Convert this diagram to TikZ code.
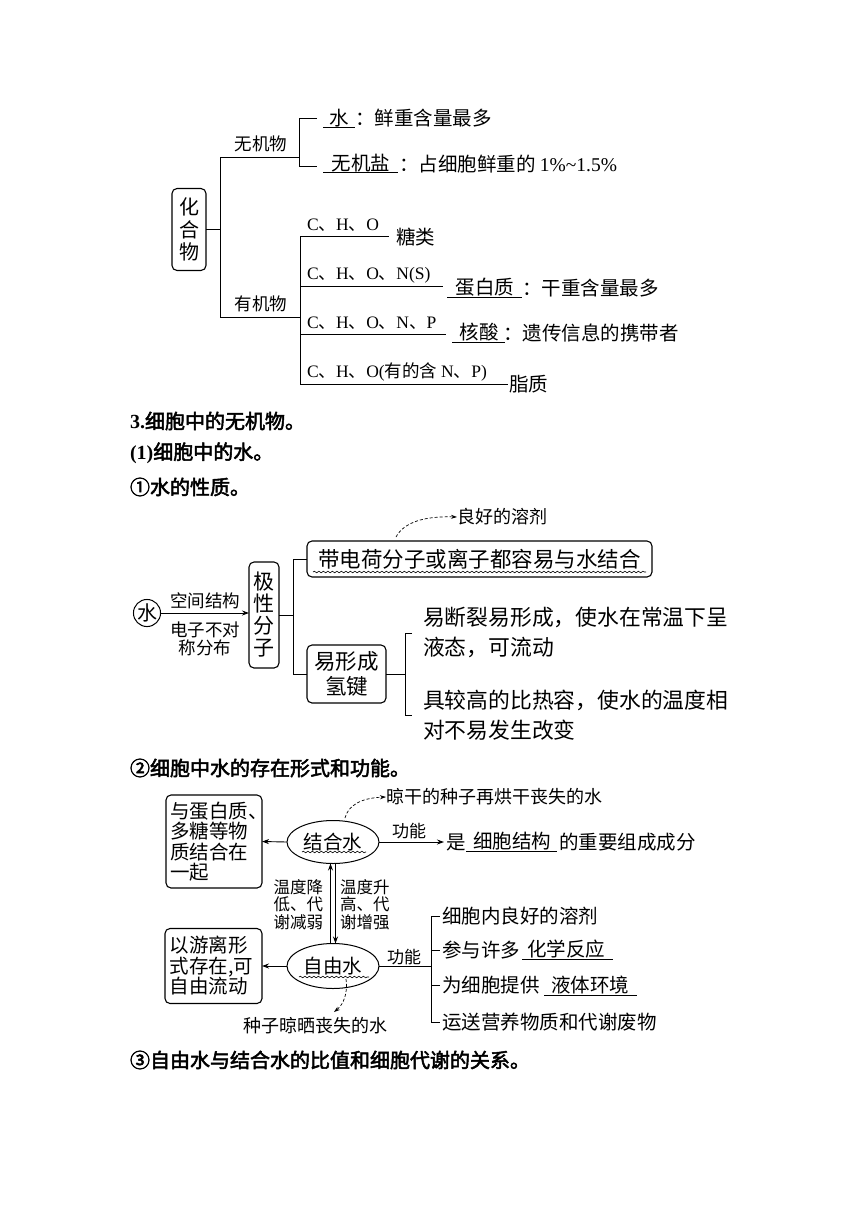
\documentclass[tikz,border=0pt]{standalone}
\usepackage{fontspec}
\setmainfont{Noto Sans CJK SC}[AutoFakeBold=2.5]
\newfontfamily\tnr{Liberation Serif}
\usetikzlibrary{arrows.meta,decorations.pathmorphing,shapes.geometric}
\newcommand\tnx[1]{{\tnr #1}}
\begin{document}
\begin{tikzpicture}[x=1pt,y=-1pt,
  every node/.style={inner sep=0pt, outer sep=0pt},
  ln/.style={line width=1pt},
  rbox/.style={draw, line width=1.1pt, rounded corners=5pt},
  wav/.style={decorate, decoration={snake, amplitude=0.8pt, segment length=4.5pt}, line width=0.6pt},
  arr/.style={line width=0.9pt, -{Stealth[length=7pt,width=5pt]}},
  dsh/.style={line width=0.7pt, dash pattern=on 3pt off 2pt, -{Stealth[length=6pt,width=4pt]}},
  fA/.style={font=\fontsize{19.5}{21}\selectfont},
  fB/.style={font=\fontsize{17.5}{19}\selectfont},
  fC/.style={font=\fontsize{21.5}{25}\selectfont},
  fD/.style={font=\fontsize{16.5}{17.5}\selectfont},
  fE/.style={font=\fontsize{21.8}{24}\selectfont},
  fH/.style={font=\fontsize{18}{20}\selectfont},
  fT/.style={font=\fontsize{20}{22}\selectfont\bfseries},
]
\fill[white] (0,0) rectangle (860,1216);
\useasboundingbox (0,0) rectangle (860,1216);

% ---------------- top: compounds ----------------
\node[rbox, minimum width=34, minimum height=82, align=center, font=\fontsize{20}{22.5}\selectfont] (hhw) at (189,229.5) {化\\合\\物};
\coordinate (m0) at (220,229.5);
\coordinate (m1) at (220,157);
\coordinate (m2) at (220,317);
\draw[ln] (hhw.east) -- (m0);
\draw[ln] (m1) -- (m2);
% inorganic
\coordinate (i0) at (299,157);
\coordinate (i1) at (299,118);
\coordinate (i2) at (299,166);
\coordinate (i1e) at (317,118);
\coordinate (i2e) at (317,166);
\draw[ln] (m1) -- (i0);
\draw[ln] (i1e) -- (i1) -- (i2) -- (i2e);
\node[fB] (wjw) at (261,144) {无机物};
\node[fA] (shui1) at (339,118) {水};
\draw[ln] (323,127) -- (355,127);
\node[fA, anchor=west] (t1) at (355,118) {：鲜重含量最多};
\node[fA] (wjy) at (361,163) {无机盐};
\draw[ln] (323,172) -- (398,172);
\node[fA, anchor=west] (t2) at (399,164) {：占细胞鲜重的 \tnx{1\%\textasciitilde1.5\%}};
% organic
\node[fB] (yjw) at (261,304) {有机物};
\coordinate (o0) at (300,317);
\draw[ln] (m2) -- (o0);
\coordinate (oa) at (300,236);
\coordinate (ob) at (300,286);
\coordinate (oc) at (300,334);
\coordinate (od) at (300,384);
\coordinate (oae) at (389,236);
\coordinate (obe) at (443,286);
\coordinate (oce) at (446,334);
\coordinate (ode) at (508,384);
\draw[ln] (oa) -- (od);
\draw[ln] (oa) -- (oae);
\draw[ln] (ob) -- (obe);
\draw[ln] (oc) -- (oce);
\draw[ln] (od) -- (ode);
\node[fB, anchor=west] (la) at (307,225) {\tnx{C}、\tnx{H}、\tnx{O}};
\node[fA, anchor=west] (tl) at (396,237) {糖类};
\node[fB, anchor=west] (lb) at (307,275) {\tnx{C}、\tnx{H}、\tnx{O}、\tnx{N(S)}};
\node[fA] (dbz) at (485,287) {蛋白质};
\draw[ln] (447,297) -- (522,297);
\node[fA, anchor=west] (t3) at (522,288) {：干重含量最多};
\node[fB, anchor=west] (lc) at (307,323) {\tnx{C}、\tnx{H}、\tnx{O}、\tnx{N}、\tnx{P}};
\node[fA] (hs) at (479,332) {核酸};
\draw[ln] (452,342) -- (505,342);
\node[fA, anchor=west] (t4) at (503,333) {：遗传信息的携带者};
\node[fB, anchor=west] (ld) at (307,372) {\tnx{C}、\tnx{H}、\tnx{O(}有的含 \tnx{N}、\tnx{P)}};
\node[fA, anchor=west] (zz) at (509,384) {脂质};

% ---------------- headings ----------------
\node[fT, anchor=west] (h1) at (130,421) {\tnx{3.}细胞中的无机物。};
\node[fT, anchor=west] (h2) at (130,453) {\tnx{(1)}细胞中的水。};
\node[fT, anchor=west] (h3) at (130,487) {①水的性质。};
\node[fT, anchor=west] (h4) at (130,768) {②细胞中水的存在形式和功能。};
\node[fT, anchor=west] (h5) at (130,1060) {③自由水与结合水的比值和细胞代谢的关系。};

% ---------------- middle: properties of water ----------------
\node[circle, draw, ln, minimum size=27, font=\fontsize{20}{22}\selectfont] (shui) at (147,613) {水};
\node[rbox, minimum width=30, minimum height=106, align=center, font=\fontsize{21}{22}\selectfont] (jx) at (264,615) {极\\性\\分\\子};
\draw[arr] (shui.east) -- (shui.east -| jx.west);
\node[fB] (kj) at (205,601) {空间结构};
\node[align=center, font=\fontsize{17.5}{18.5}\selectfont] (dz) at (205,639) {电子不对\\称分布};
\coordinate (b0) at (293,615);
\coordinate (b1) at (293,559);
\coordinate (b2) at (293,674);
\draw[ln] (jx.east) -- (b0);
\draw[ln] (b1) -- (b2);
\node[rbox, minimum width=345, minimum height=36, fC] (dd) at (479.5,559) {带电荷分子或离子都容易与水结合};
\draw[wav] (313,572) -- (646,572);
\draw[ln] (b1) -- (dd.west);
\node[rbox, minimum width=79, minimum height=58, align=center, fC] (qj) at (346.5,674) {易形成\\氢键};
\draw[ln] (b2) -- (qj.west);
\coordinate (c0) at (405,674);
\coordinate (c1) at (405,633);
\coordinate (c2) at (405,715);
\coordinate (c1e) at (412,633);
\coordinate (c2e) at (412,715);
\draw[ln] (qj.east) -- (c0);
\draw[ln] (c1e) -- (c1) -- (c2) -- (c2e);
\node[fE, anchor=west] (p1) at (423,617) {易断裂易形成，使水在常温下呈};
\node[fE, anchor=west] (p2) at (423,647) {液态，可流动};
\node[fE, anchor=west] (p3) at (423,700) {具较高的比热容，使水的温度相};
\node[fE, anchor=west] (p4) at (423,730) {对不易发生改变};
\coordinate (g0) at (396,537);
\node[fH, anchor=west] (lh) at (457,517) {良好的溶剂};
\draw[dsh] (g0) .. controls (404,522) and (425,516) .. (lh.west);

% ---------------- bottom: forms of water ----------------
\node[rbox, minimum width=96, minimum height=93, align=left, text width=88, font=\fontsize{19.5}{20.3}\selectfont] (bx1) at (214,841.5) {与蛋白质、\\多糖等物\\质结合在\\一起};
\node[ellipse, draw, ln, minimum width=92, minimum height=43, fA] (jh) at (333,842) {结合水};
\draw[wav] (302,852) -- (366,852);
\draw[arr] (jh.west) -- (bx1.east);
\coordinate (s0) at (444,842);
\draw[arr] (jh.east) -- (s0);
\node[font=\fontsize{17}{18}\selectfont] (gn1) at (409,831) {功能};
\node[fA, anchor=west] (shi) at (446,842) {是};
\node[fA] (xbjg) at (512,841) {细胞结构};
\draw[ln] (466,851) -- (557,851);
\node[fA, anchor=west] (t5) at (559,842) {的重要组成成分};
\coordinate (g1) at (345,818);
\node[fH, anchor=west] (lg) at (386,797) {晾干的种子再烘干丧失的水};
\draw[dsh] (g1) .. controls (348,806) and (360,798) .. (lg.west);

\node[ellipse, draw, ln, minimum width=92, minimum height=45, fA] (zy) at (333,966) {自由水};
\draw[wav] (299,977) -- (369,977);
\draw[arr] ([xshift=-2.5pt]zy.north) -- ([xshift=-2.5pt]jh.south);
\draw[arr] ([xshift=2.5pt]jh.south) -- ([xshift=2.5pt]zy.north);
\node[fD, align=right, anchor=east] (wd1) at (323,904.5) {温度降\\低、代\\谢减弱};
\node[fD, align=left, anchor=west] (wd2) at (340,904.5) {温度升\\高、代\\谢增强};

\node[rbox, minimum width=97, minimum height=75, align=left, text width=88, font=\fontsize{19.5}{20.5}\selectfont] (bx2) at (213.5,966) {以游离形\\式存在,可\\自由流动};
\draw[arr] (zy.west) -- (bx2.east);
\coordinate (g2) at (346,979);
\coordinate (g3) at (334,1012);
\node[fH] (lz) at (315,1026) {种子晾晒丧失的水};
\draw[dsh] (g2) .. controls (348,992) and (344,1004) .. (g3);

\node[font=\fontsize{17}{18}\selectfont] (gn2) at (404,957) {功能};
\coordinate (f0) at (431,966);
\coordinate (f1) at (431,916);
\coordinate (f2) at (431,950);
\coordinate (f3) at (431,985);
\coordinate (f4) at (431,1022);
\coordinate (f1e) at (440,916);
\coordinate (f2e) at (440,950);
\coordinate (f3e) at (440,985);
\coordinate (f4e) at (440,1022);
\draw[ln] (zy.east) -- (f0);
\draw[ln] (f1) -- (f4);
\draw[ln] (f1) -- (f1e);
\draw[ln] (f2) -- (f2e);
\draw[ln] (f3) -- (f3e);
\draw[ln] (f4) -- (f4e);
\node[fA, anchor=west] (q1) at (442,916) {细胞内良好的溶剂};
\node[fA, anchor=west] (q2) at (442,950) {参与许多};
\node[fA] (q2b) at (566,949) {化学反应};
\draw[ln] (522,959) -- (613,959);
\node[fA, anchor=west] (q3) at (442,985) {为细胞提供};
\node[fA] (q3b) at (590,985) {液体环境};
\draw[ln] (544,995) -- (637,995);
\node[fA, anchor=west] (q4) at (442,1022) {运送营养物质和代谢废物};
\end{tikzpicture}
\end{document}
